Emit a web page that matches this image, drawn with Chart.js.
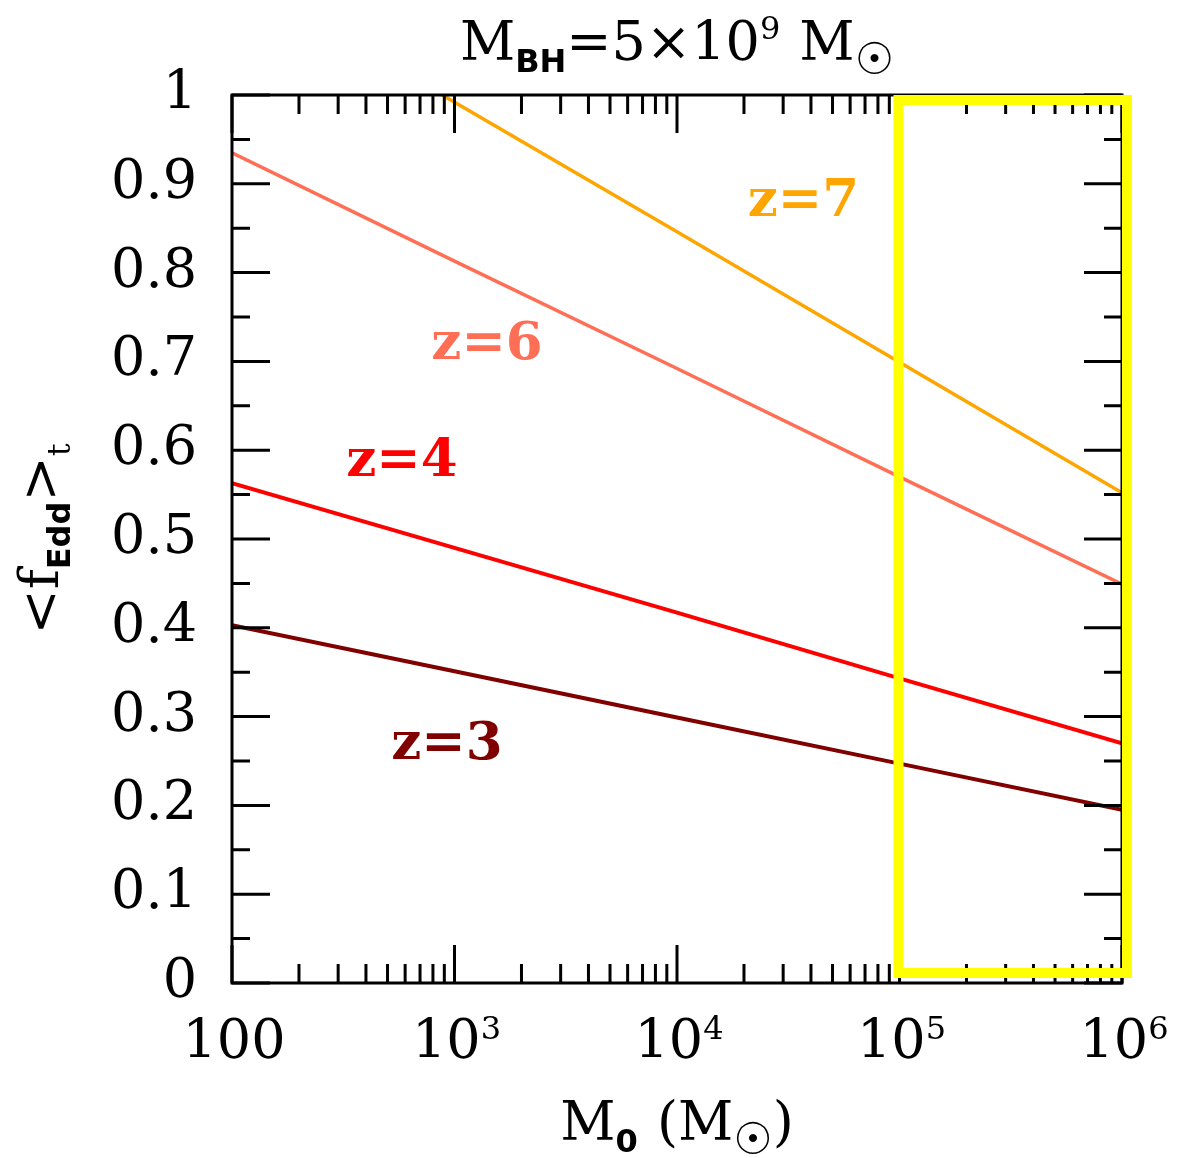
<!DOCTYPE html>
<html>
<head>
<meta charset="utf-8">
<script src="https://cdn.jsdelivr.net/npm/chart.js@4"></script>
<style>
  html, body { margin: 0; padding: 0; background: #fff; }
</style>
</head>
<body>
<canvas id="myChart" width="1179" height="1158"></canvas>
<script>
// seed mass M0 (solar masses) and time-averaged Eddington ratio per redshift
const seedMass = [100, 1e3, 1e4, 1e5, 1e6];
const fEdd_z3 = [0.403, 0.351, 0.299, 0.247, 0.195];
const fEdd_z4 = [0.563, 0.490, 0.417, 0.343, 0.270];
const fEdd_z6 = [0.935, 0.813, 0.692, 0.570, 0.449];
// z=7 only comes in below 1 from M0 ~ 880
const seedMass_z7 = [880, 1e4, 1e5, 1e6];
const fEdd_z7 = [1.0, 0.846, 0.699, 0.552];

// x tick labels as [mantissa, exponent]
const xTicks = [100, 1e3, 1e4, 1e5, 1e6];
const xTickLabels = [['100', ''], ['10', '3'], ['10', '4'], ['10', '5'], ['10', '6']];
const yTicks = [0, 0.1, 0.2, 0.3, 0.4, 0.5, 0.6, 0.7, 0.8, 0.9, 1];
const yTickLabels = ['0', '0.1', '0.2', '0.3', '0.4', '0.5', '0.6', '0.7', '0.8', '0.9', '1'];

// curve labels: [text, M0, fEdd, colour]
const curveLabels = [
  ['z=7', 3.7e4, 0.879, '#FFA500'],
  ['z=6', 1.4e3, 0.718, '#FF6F55'],
  ['z=4', 580, 0.587, '#FF0000'],
  ['z=3', 925, 0.268, '#800000']
];

// highlighted seed-mass range
const boxRange = [1e5, 1e6];

const SERIF = 'DejaVu Serif';
const SANS = 'DejaVu Sans';

function pts(xs, ys) {
  return xs.map((v, i) => ({ x: v, y: ys[i] }));
}

// draws a run of text pieces with their own font and baseline shift
function drawParts(ctx, parts, x, y, align) {
  let w = 0;
  parts.forEach(p => { ctx.font = p[1]; w += ctx.measureText(p[0]).width; });
  let cx = align === 'center' ? x - w / 2 : x;
  ctx.textAlign = 'left';
  ctx.textBaseline = 'alphabetic';
  parts.forEach(p => {
    ctx.font = p[1];
    ctx.fillText(p[0], cx, y + (p[2] || 0));
    cx += ctx.measureText(p[0]).width;
  });
}

const frameAndTicks = {
  id: 'frameAndTicks',
  afterDatasetsDraw(chart) {
    const { ctx, chartArea: a, scales: { x, y } } = chart;
    ctx.save();
    ctx.strokeStyle = '#000';
    ctx.lineWidth = 3;
    ctx.beginPath();
    // log ticks on bottom and top
    for (let d = 100; d <= 1e6; d *= 10) {
      for (let k = 1; k < 10; k++) {
        const v = d * k;
        if (v > 1e6) break;
        const px = x.getPixelForValue(v);
        const len = k === 1 ? 38 : 19;
        ctx.moveTo(px, a.bottom); ctx.lineTo(px, a.bottom - len);
        ctx.moveTo(px, a.top); ctx.lineTo(px, a.top + len);
      }
    }
    // linear ticks on left and right
    for (let i = 0; i <= 20; i++) {
      const py = y.getPixelForValue(i * 0.05);
      const len = i % 2 === 0 ? 38 : 18;
      ctx.moveTo(a.left, py); ctx.lineTo(a.left + len, py);
      ctx.moveTo(a.right, py); ctx.lineTo(a.right - len, py);
    }
    ctx.stroke();
    ctx.strokeRect(a.left, a.top, a.right - a.left, a.bottom - a.top);

    // highlight box
    ctx.strokeStyle = '#FFFF00';
    ctx.lineWidth = 10;
    const bx0 = x.getPixelForValue(boxRange[0]) - 1;
    const bx1 = x.getPixelForValue(boxRange[1]) + 5;
    const by0 = y.getPixelForValue(1) + 5;
    const by1 = y.getPixelForValue(0) - 10;
    ctx.strokeRect(bx0, by0, bx1 - bx0, by1 - by0);
    ctx.restore();
  },
  afterDraw(chart) {
    const { ctx, chartArea: a, scales: { x, y } } = chart;
    ctx.save();
    ctx.fillStyle = '#000';
    const big = '54px "' + SERIF + '"';
    const sub = 'bold 32px "' + SANS + '"';
    const sup = '32px "' + SERIF + '"';
    const sun = '44px "' + SANS + '"';
    const gap = '30px "' + SERIF + '"';

    // x tick labels with raised exponents
    xTicks.forEach((v, i) => {
      const lab = xTickLabels[i];
      drawParts(ctx, [[lab[0], big], [lab[1], sup, -19]],
        x.getPixelForValue(v) + 2, a.bottom + 75, 'center');
    });

    // title
    drawParts(ctx, [
      ['M', big], ['BH', sub, 12], ['=5×10', big], ['9', sup, -21],
      ['  ', gap], ['M', big], ['☉', sun, 14]
    ], (a.left + a.right) / 2, 60, 'center');

    // x axis title
    drawParts(ctx, [
      ['M', big], ['0', sub, 12], ['  ', gap], ['(M', big], ['☉', sun, 14], [')', big]
    ], (a.left + a.right) / 2, 1140, 'center');

    // y axis title
    ctx.save();
    ctx.translate(58, (a.top + a.bottom) / 2);
    ctx.rotate(-Math.PI / 2);
    drawParts(ctx, [
      ['<f', big], ['Edd', sub, 12], ['>', big], ['t', sup, 12]
    ], 0, 0, 'center');
    ctx.restore();

    // curve labels
    ctx.textAlign = 'center';
    ctx.textBaseline = 'middle';
    ctx.font = 'bold 53px "' + SERIF + '"';
    curveLabels.forEach(l => {
      ctx.fillStyle = l[3];
      ctx.fillText(l[0], x.getPixelForValue(l[1]), y.getPixelForValue(l[2]));
    });
    ctx.restore();
  }
};

const data = {
  datasets: [
    { label: 'z=7', data: pts(seedMass_z7, fEdd_z7), borderColor: '#FFA500', borderWidth: 3.5 },
    { label: 'z=6', data: pts(seedMass, fEdd_z6), borderColor: '#FF6F55', borderWidth: 3.5 },
    { label: 'z=4', data: pts(seedMass, fEdd_z4), borderColor: '#FF0000', borderWidth: 4 },
    { label: 'z=3', data: pts(seedMass, fEdd_z3), borderColor: '#800000', borderWidth: 4 }
  ]
};

const config = {
  type: 'line',
  data: data,
  options: {
    responsive: false,
    animation: false,
    layout: { padding: { top: 95, right: 57, bottom: 0, left: 0 } },
    elements: { point: { radius: 0 }, line: { tension: 0 } },
    plugins: { legend: { display: false }, tooltip: { enabled: false } },
    scales: {
      x: {
        type: 'logarithmic',
        min: 100,
        max: 1e6,
        grid: { display: false, drawTicks: false },
        border: { display: false },
        ticks: { display: false },
        afterFit: s => { s.height = 175; s.paddingLeft = 0; s.paddingRight = 0; }
      },
      y: {
        min: 0,
        max: 1,
        grid: { display: false, drawTicks: false },
        border: { display: false },
        afterBuildTicks: s => { s.ticks = yTicks.map(v => ({ value: v })); },
        afterFit: s => { s.width = 232; s.paddingTop = 0; s.paddingBottom = 0; },
        ticks: {
          padding: 35,
          color: '#000',
          font: { family: SERIF, size: 54 },
          callback: (v, i) => yTickLabels[i]
        }
      }
    }
  },
  plugins: [frameAndTicks]
};

const myChart = new Chart(document.getElementById('myChart'), config);
</script>
</body>
</html>
